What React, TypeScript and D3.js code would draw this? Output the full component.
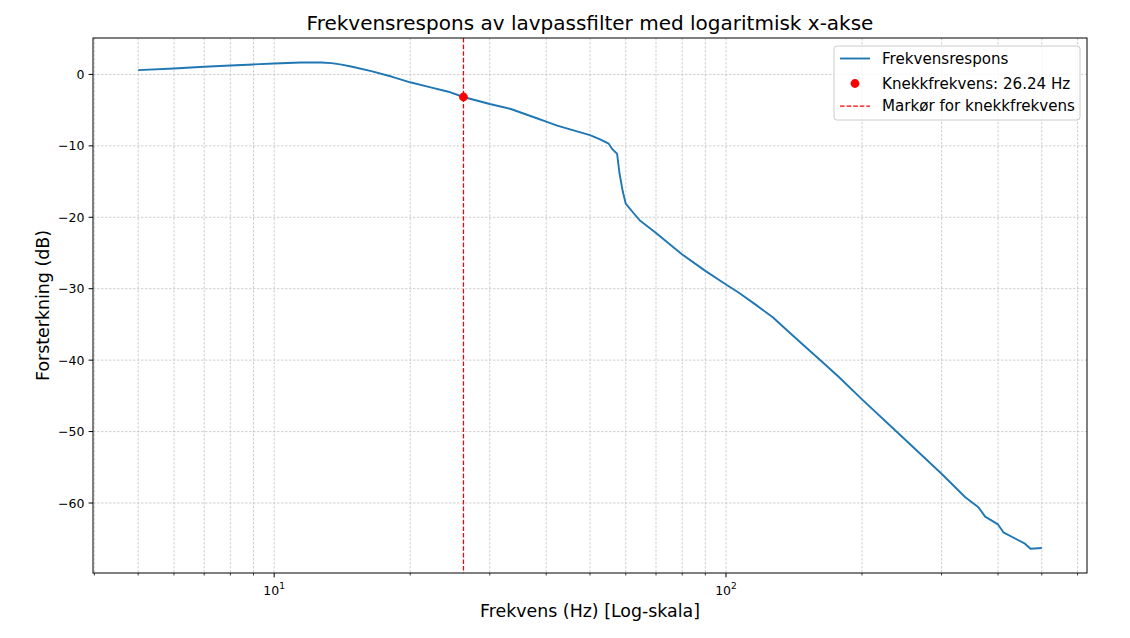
import * as d3 from "d3";
import React from "react";

// frekvens (Hz) og forsterkning (dB), lest av figuren
const freqs = [
  5, 6, 7, 8, 9, 10, 11.45, 12.7, 13.4, 14.1, 14.8, 16.4, 18.25, 20, 22.2, 24.3, 26.24, 30, 33.4,
  38, 40, 42.3, 50, 52.5, 55, 56.1, 57.4, 58.1, 59.1, 60, 62.4, 64.6, 70, 80, 90, 100, 107, 116.7,
  126.9, 138, 150.2, 163.6, 178, 200, 241.3, 300, 338.5, 362, 374.6, 400, 411, 458.9, 472, 500,
];
const gains = [
  0.6, 0.84, 1.07, 1.26, 1.4, 1.53, 1.67, 1.67, 1.58, 1.38, 1.11, 0.46, -0.33, -1.1, -1.81, -2.42,
  -3.16, -4.14, -4.84, -6.1, -6.6, -7.16, -8.5, -9.07, -9.7, -10.5, -11.1, -13.8, -16.4, -18.1,
  -19.4, -20.5, -22.2, -25.2, -27.5, -29.4, -30.6, -32.3, -34.0, -36.1, -38.2, -40.3, -42.4, -45.5,
  -50.3, -55.9, -59.2, -60.6, -61.9, -63.0, -64.1, -65.7, -66.4, -66.3,
];
const kneeFreq = 26.24;
const kneeGain = -3.16;

const yTicks = [0, -10, -20, -30, -40, -50, -60];
const xMajor = [10, 100];
const xMinor = [4, 5, 6, 7, 8, 9, 20, 30, 40, 50, 60, 70, 80, 90, 200, 300, 400, 500, 600];

const legendItems = ["Frekvensrespons", "Knekkfrekvens: 26.24 Hz", "Markør for knekkfrekvens"];

const W = 1130;
const H = 638;
const left = 93;
const right = 1087;
const top = 38;
const bottom = 573;

const font = "DejaVu Sans";
const blue = "#1f77b4";

export default function App() {
  const x = d3.scaleLog().domain([3.972, 629.5]).range([left, right]);
  const y = d3.scaleLinear().domain([-69.8, 5.1]).range([bottom, top]);

  const line = d3
    .line<number>()
    .x((_, i) => x(freqs[i]))
    .y((d) => y(d));

  const grid = "#b0b0b0";

  return (
    <svg
      width={W}
      height={H}
      style={{ position: "absolute", left: 0, top: 0, background: "#fff" }}
      fontFamily={font}
    >
      <rect width={W} height={H} fill="#fff" />
      {/* rutenett */}
      <g strokeWidth={0.6} stroke={grid} strokeDasharray="2.5,1.5">
        {[...xMajor, ...xMinor].map((t) => (
          <line key={"gx" + t} x1={x(t)} x2={x(t)} y1={top} y2={bottom} />
        ))}
        {yTicks.map((t) => (
          <line key={"gy" + t} x1={left} x2={right} y1={y(t)} y2={y(t)} />
        ))}
      </g>

      {/* kurve */}
      <path d={line(gains) ?? ""} fill="none" stroke={blue} strokeWidth={1.9} strokeLinejoin="round" />

      {/* markør */}
      <line
        x1={x(kneeFreq)}
        x2={x(kneeFreq)}
        y1={top}
        y2={bottom}
        stroke="red"
        strokeWidth={1.25}
        strokeDasharray="4.6,2"
      />
      <circle cx={x(kneeFreq)} cy={y(kneeGain)} r={4.4} fill="red" />

      {/* ramme */}
      <rect x={left} y={top} width={right - left} height={bottom - top} fill="none" stroke="#000" strokeWidth={1} />

      {/* akser */}
      <g fontSize={12.5} fill="#000">
        {xMajor.map((t) => (
          <g key={"xt" + t}>
            <line x1={x(t)} x2={x(t)} y1={bottom} y2={bottom + 4.4} stroke="#000" strokeWidth={1} />
            <text x={x(t)} y={595} textAnchor="middle">
              10
              <tspan fontSize={9} dy={-6}>
                {Math.round(Math.log10(t))}
              </tspan>
            </text>
          </g>
        ))}
        {xMinor.map((t) => (
          <line key={"xm" + t} x1={x(t)} x2={x(t)} y1={bottom} y2={bottom + 2.5} stroke="#000" strokeWidth={0.75} />
        ))}
        {yTicks.map((t) => (
          <g key={"yt" + t}>
            <line x1={left - 4.4} x2={left} y1={y(t)} y2={y(t)} stroke="#000" strokeWidth={1} />
            <text x={left - 8.5} y={y(t)} textAnchor="end" dominantBaseline="central">
              {t < 0 ? "\u2212" + Math.abs(t) : String(t)}
            </text>
          </g>
        ))}
      </g>

      {/* titler */}
      <text x={(left + right) / 2} y={30} textAnchor="middle" fontSize={20}>
        Frekvensrespons av lavpassfilter med logaritmisk x-akse
      </text>
      <text x={(left + right) / 2} y={617} textAnchor="middle" fontSize={17.4}>
        Frekvens (Hz) [Log-skala]
      </text>
      <text
        transform={`translate(43,${(top + bottom) / 2}) rotate(-90)`}
        textAnchor="middle"
        dominantBaseline="central"
        fontSize={17.4}
      >
        Forsterkning (dB)
      </text>

      {/* forklaring */}
      <g>
        <rect x={834} y={46} width={246} height={74} rx={3} fill="#fff" fillOpacity={0.8} stroke="#cccccc" />
        <line x1={840} x2={870} y1={58.5} y2={58.5} stroke={blue} strokeWidth={1.9} />
        <circle cx={855} cy={83.5} r={4.4} fill="red" />
        <line x1={840} x2={870} y1={106} y2={106} stroke="red" strokeWidth={1.25} strokeDasharray="4.6,2" />
        {legendItems.map((s, i) => (
          <text key={s} x={882} y={[58.5, 83.5, 106][i]} fontSize={15.1} dominantBaseline="central">
            {s}
          </text>
        ))}
      </g>
    </svg>
  );
}
